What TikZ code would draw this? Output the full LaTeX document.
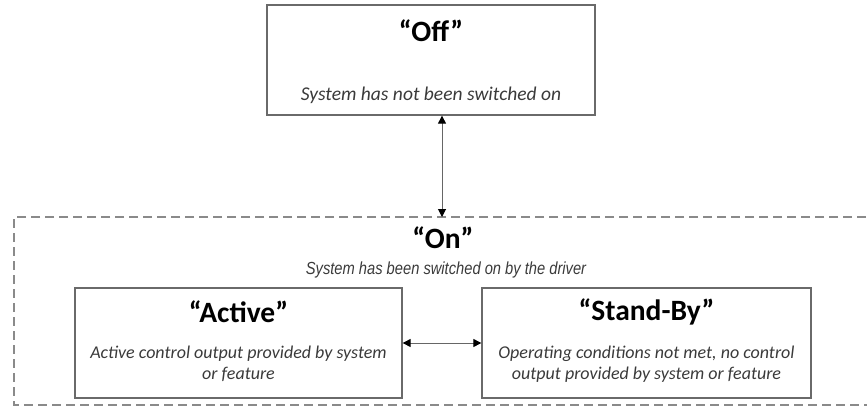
\documentclass[tikz,border=0pt]{standalone}
\usepackage{fontspec}
\setmainfont{Carlito}
\newfontfamily\narrowfont[FakeStretch=0.84]{Liberation Sans}
\usetikzlibrary{arrows.meta}
\definecolor{boxline}{HTML}{6A6A6A}
\definecolor{dashline}{HTML}{8A8A8A}
\definecolor{subtext}{HTML}{3A3A3A}
\tikzset{
  statebox/.style={draw=boxline, line width=1.3pt, minimum width=328pt, minimum height=110pt, inner sep=0pt},
  title/.style={font=\fontsize{29.5}{33}\selectfont\bfseries, text=black, inner sep=1pt},
  desc/.style={font=\fontsize{18}{21.5}\selectfont\itshape, text=subtext, align=center},
  ondesc/.style={font=\narrowfont\fontsize{17.5}{20}\selectfont\itshape, text=subtext, inner sep=1pt},
  conn/.style={draw=gray!80!black, line width=1pt, {Triangle[length=8pt,width=8pt,color=black]}-{Triangle[length=8pt,width=8pt,color=black]}},
}
\begin{document}
\begin{tikzpicture}[x=1pt,y=-1pt]
\useasboundingbox (0,0) rectangle (867,407);
% outer dashed "On" region
\draw[dashline, line width=1.2pt, dash pattern=on 9pt off 5pt] (880,217) -- (14,217) -- (14,405) -- (880,405);
\coordinate (ontop) at (442,217);
% Off box
\node[statebox] (off) at (431,60) {};
\node[title] (offt) at (431,31) {“Off”};
\node[desc, font=\fontsize{19.5}{22}\selectfont\itshape] (offd) at (431,95) {System has not been switched on};
% On labels
\node[title] (ont) at (443,238) {“On”};
\node[ondesc] (ond) at (446,270) {System has been switched on by the driver};
% Active box
\node[statebox, minimum width=327pt] (act) at (238.5,343) {};
\node[title] (actt) at (238.5,312) {“Active”};
\node[desc] (actd) at (238.5,364) {Active control output provided by system\\or feature};
% Stand-By box
\node[statebox, minimum width=329pt] (stb) at (646.5,343) {};
\node[title] (stbt) at (646.5,312) {“Stand-By”};
\node[desc] (stbd) at (646.5,364) {Operating conditions not met, no control\\output provided by system or feature};
% connectors
\draw[conn] (off.south -| ontop) -- (ontop);
\draw[conn] (act.east) -- (stb.west);
\end{tikzpicture}
\end{document}
